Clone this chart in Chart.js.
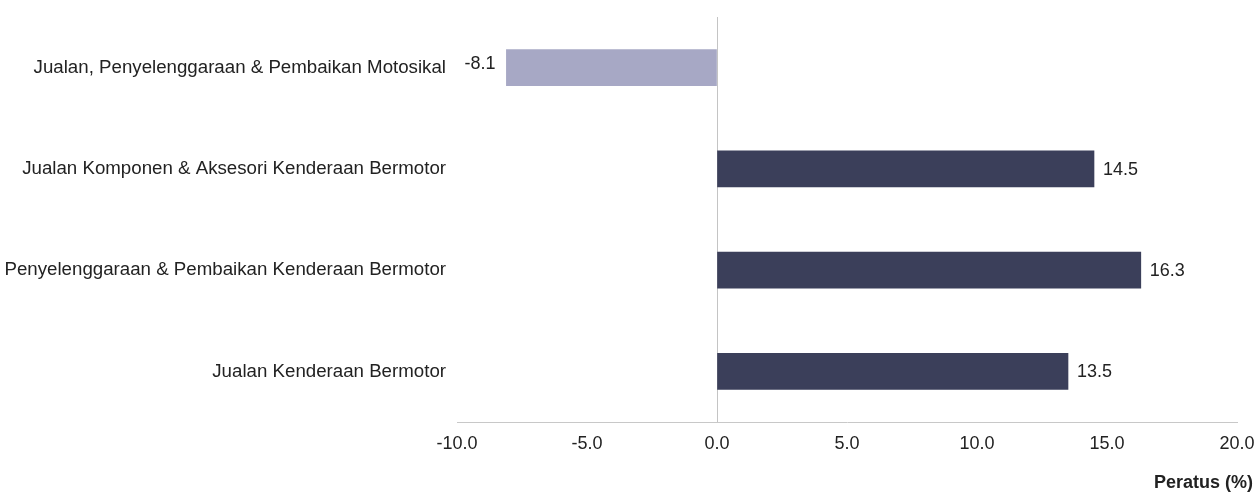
<!DOCTYPE html>
<html>
<head>
<meta charset="utf-8">
<script src="https://cdn.jsdelivr.net/npm/chart.js@4/dist/chart.umd.min.js"></script>
<style>
html,body{margin:0;padding:0;background:#fff;}
#wrap{width:1255px;height:492px;position:relative;}
</style>
</head>
<body>
<div id="wrap"><canvas id="c" width="1255" height="492"></canvas></div>
<script>
const categories = [
  "Jualan, Penyelenggaraan & Pembaikan Motosikal",
  "Jualan Komponen & Aksesori Kenderaan Bermotor",
  "Penyelenggaraan & Pembaikan Kenderaan Bermotor",
  "Jualan Kenderaan Bermotor"
];
const values = [-8.1, 14.5, 16.3, 13.5];
const xTicks = [-10, -5, 0, 5, 10, 15, 20];
const axisTitle = "Peratus (%)";

const posColor = "#3b3f5a";
const negColor = "#a7a8c5";
const FONT = "'Liberation Sans', Arial, sans-serif";

const labelPlugin = {
  id: 'labels',
  afterDatasetsDraw(chart) {
    const ctx = chart.ctx;
    const meta = chart.getDatasetMeta(0);
    ctx.save();
    ctx.font = "18px " + FONT;
    ctx.fillStyle = "#222";
    ctx.textBaseline = "middle";
    meta.data.forEach((bar, i) => {
      const v = values[i];
      const txt = v.toFixed(1);
      if (v >= 0) {
        ctx.textAlign = "left";
        ctx.fillText(txt, bar.x + 9, bar.y + 1);
      } else {
        ctx.textAlign = "right";
        ctx.fillText(txt, bar.x - 11, bar.y - 4);
      }
    });
    ctx.font = "bold 18px " + FONT;
    ctx.textAlign = "right";
    ctx.fillStyle = "#222";
    ctx.fillText(axisTitle, chart.width - 2, chart.chartArea.bottom + 61);
    ctx.restore();
  }
};

new Chart(document.getElementById('c'), {
  type: 'bar',
  data: {
    labels: categories,
    datasets: [{
      data: values,
      backgroundColor: values.map(v => v < 0 ? negColor : posColor),
      barThickness: 36
    }]
  },
  options: {
    indexAxis: 'y',
    responsive: false,
    animation: false,
    layout: { padding: { top: 17, right: 18, left: 0, bottom: 0 } },
    plugins: { legend: { display: false }, tooltip: { enabled: false } },
    scales: {
      x: {
        min: -10, max: 20,
        afterBuildTicks(scale) { scale.ticks = xTicks.map(v => ({ value: v })); },
        afterFit(scale) { scale.height = 70; scale.paddingLeft = 0; scale.paddingRight = 0; },
        ticks: {
          color: "#222",
          font: { family: FONT, size: 18 },
          padding: 11,
          maxRotation: 0,
          callback: v => Number(v).toFixed(1)
        },
        grid: {
          drawTicks: false,
          color: c => (c.tick && c.tick.value === 0) ? "#c4c4c4" : "rgba(0,0,0,0)",
          lineWidth: 1
        },
        border: { display: true, color: "#c8c8c8", width: 1 }
      },
      y: {
        afterFit(scale) { scale.width = 457; scale.paddingTop = 0; scale.paddingBottom = 0; },
        ticks: {
          color: "#222",
          font: { family: FONT, size: 18.7 },
          padding: 11
        },
        grid: { display: false, drawTicks: false },
        border: { display: false }
      }
    }
  },
  plugins: [labelPlugin]
});
</script>
</body>
</html>
